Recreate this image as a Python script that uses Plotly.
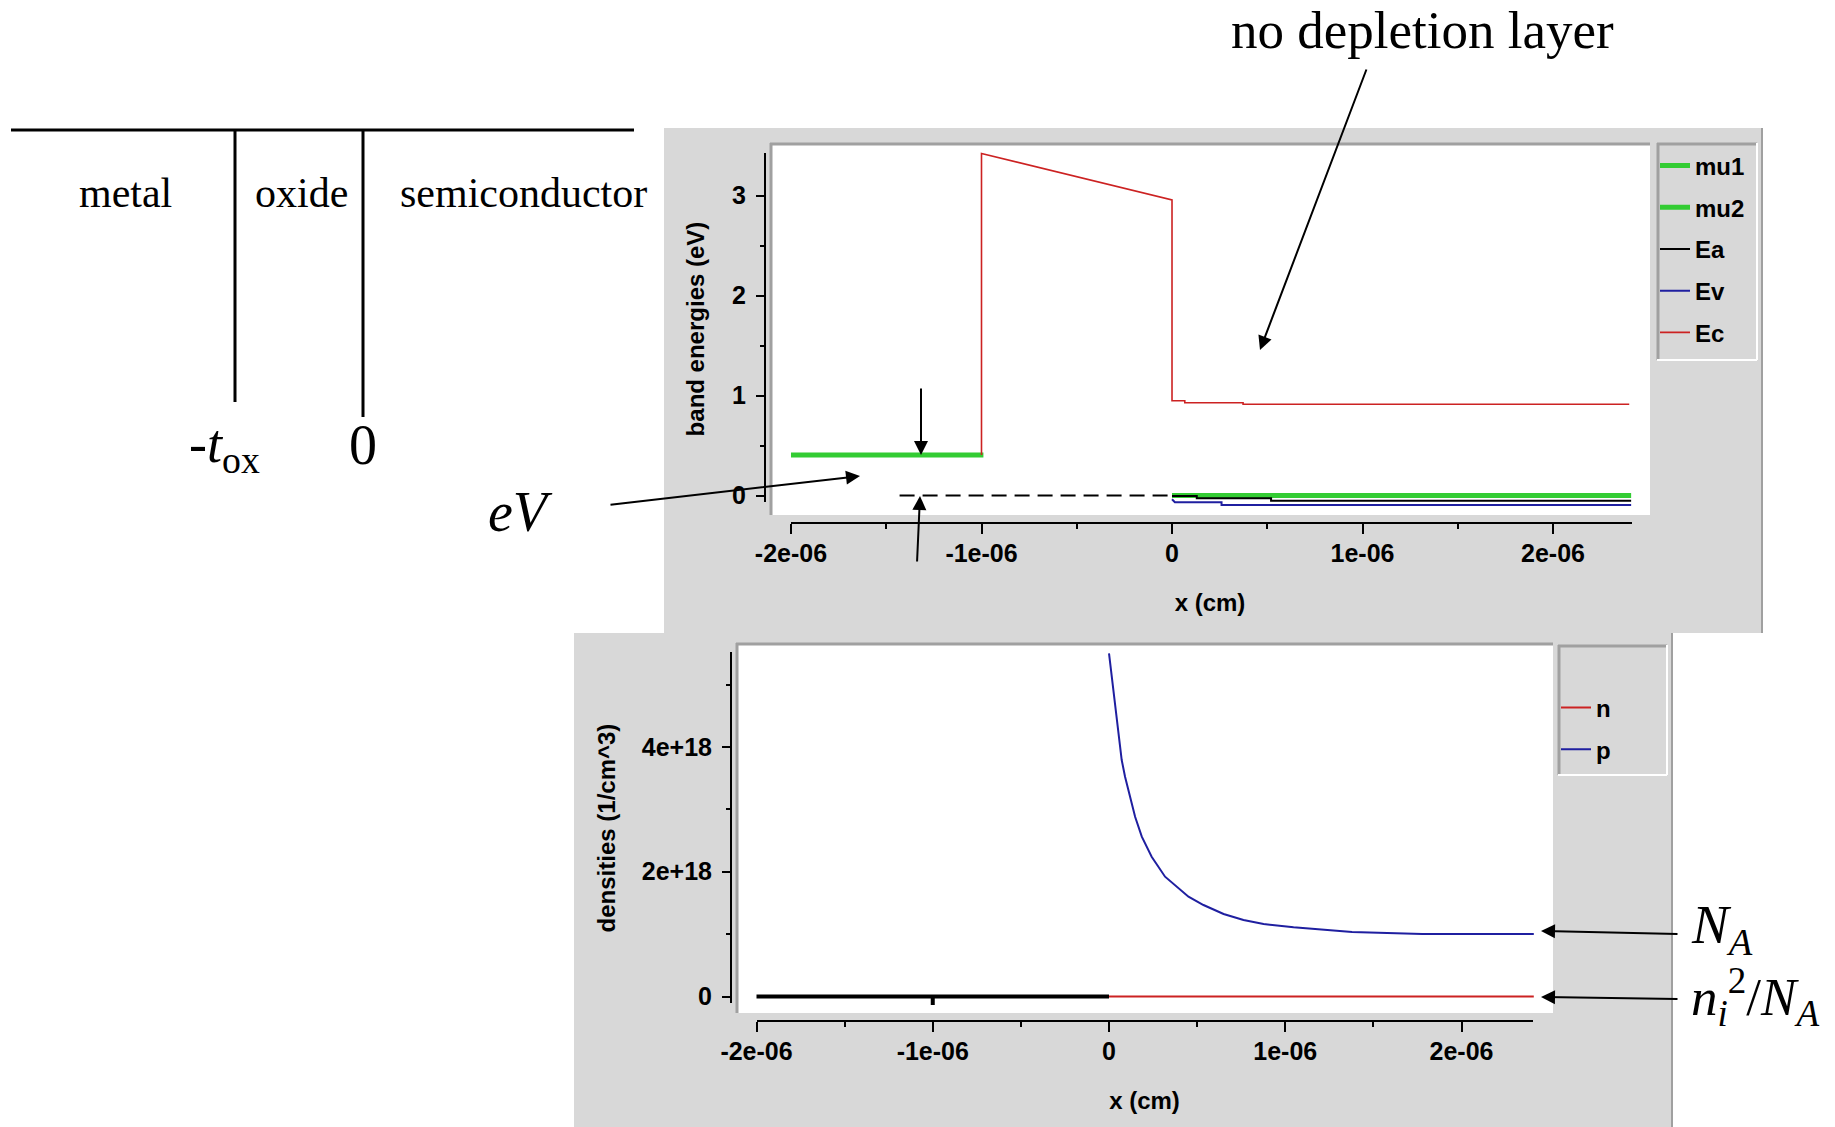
import plotly.graph_objects as go

W, H = 1835, 1127

# ---------------- data : band energies (top panel) ----------------
mu1_x = [-2.0e-6, -0.99e-6]
mu1_y = [0.405, 0.405]
mu2_x = [0.0, 2.41e-6]
mu2_y = [0.0, 0.0]
ea_x = [0.0, 0.13e-6, 0.13e-6, 0.52e-6, 0.52e-6, 2.41e-6]
ea_y = [-0.005, -0.005, -0.028, -0.028, -0.052, -0.052]
ev_x = [0.0, 0.015e-6, 0.26e-6, 0.26e-6, 2.41e-6]
ev_y = [-0.038, -0.068, -0.068, -0.095, -0.095]
ec_x = [-1.0e-6, -1.0e-6, 0.0, 0.0, 0.067e-6, 0.067e-6, 0.373e-6, 0.373e-6, 2.40e-6]
ec_y = [0.405, 3.42, 2.955, 0.948, 0.948, 0.928, 0.928, 0.912, 0.912]
ref_x = [-1.43e-6, 0.0]
ref_y = [0.0, 0.0]

top_xticks = [-2e-6, -1e-6, 0.0, 1e-6, 2e-6]
top_xticktext = ["-2e-06", "-1e-06", "0", "1e-06", "2e-06"]
top_xminor = [-1.5e-6, -0.5e-6, 0.5e-6, 1.5e-6]
top_yticks = [0, 1, 2, 3]
top_yticktext = ["0", "1", "2", "3"]
top_yminor = [0.5, 1.5, 2.5]

# ---------------- data : densities (bottom panel) ----------------
p_x = [0.0, 0.015e-6, 0.034e-6, 0.053e-6, 0.072e-6, 0.091e-6, 0.119e-6, 0.148e-6,
       0.186e-6, 0.242e-6, 0.318e-6, 0.385e-6, 0.451e-6, 0.536e-6, 0.650e-6,
       0.763e-6, 0.877e-6, 1.047e-6, 1.218e-6, 1.379e-6, 1.777e-6, 2.41e-6]
p_y = [5.50e18, 5.125e18, 4.644e18, 4.163e18, 3.79e18, 3.522e18, 3.202e18, 2.881e18,
       2.561e18, 2.24e18, 1.92e18, 1.76e18, 1.60e18, 1.466e18, 1.322e18,
       1.226e18, 1.162e18, 1.109e18, 1.066e18, 1.034e18, 1.002e18, 1.002e18]
n_x = [0.0, 2.41e-6]
n_y = [0.0, 0.0]
metal_x = [-2.0e-6, -1.0e-6, -1.0e-6, -1.0e-6, 0.0]
metal_y = [0.0, 0.0, -0.136e18, 0.0, 0.0]

bot_xticks = [-2e-6, -1e-6, 0.0, 1e-6, 2e-6]
bot_xticktext = ["-2e-06", "-1e-06", "0", "1e-06", "2e-06"]
bot_xminor = [-1.5e-6, -0.5e-6, 0.5e-6, 1.5e-6]
bot_yticks = [0, 2e18, 4e18]
bot_yticktext = ["0", "2e+18", "4e+18"]
bot_yminor = [1e18, 3e18, 5e18]

# ---------------- helpers (pixel -> paper) ----------------
def fx(px):
    return px / W


def fy(py):
    return 1 - py / H


GRAY = "#d8d8d8"
DARK = "#a0a0a0"
GREEN = "#33cc33"
RED = "#cc2222"
BLUE = "#1f1fa0"
SANS = "Liberation Sans"
SERIF = "Liberation Serif"

shapes = []


def rect(x0, y0, x1, y1, color):
    shapes.append(dict(type="rect", xref="paper", yref="paper",
                       x0=fx(x0), x1=fx(x1), y0=fy(y1), y1=fy(y0),
                       fillcolor=color, line=dict(width=0), layer="below"))


def seg(x0, y0, x1, y1, color="black", width=2, dash=None):
    ln = dict(color=color, width=width)
    if dash:
        ln["dash"] = dash
    shapes.append(dict(type="line", xref="paper", yref="paper",
                       x0=fx(x0), x1=fx(x1), y0=fy(y0), y1=fy(y1),
                       line=ln, layer="below"))


# gray panels
rect(664, 128, 1762, 633, GRAY)
rect(574, 633, 1672, 1127, GRAY)
seg(1762, 128, 1762, 633, DARK, 2)
seg(1672, 633, 1672, 1127, DARK, 2)
# white plot areas with inset borders
rect(770, 143, 1650, 515, "white")
seg(770, 144, 1650, 144, DARK, 3)
seg(771, 143, 771, 515, DARK, 3)
rect(736, 643, 1553, 1013, "white")
seg(736, 644, 1553, 644, DARK, 3)
seg(737, 643, 737, 1013, DARK, 3)
# legend boxes (inset)
seg(1657, 144, 1757, 144, DARK, 3)
seg(1658, 143, 1658, 360, DARK, 3)
seg(1657, 360, 1757, 360, "white", 2)
seg(1757, 143, 1757, 360, "white", 2)
seg(1558, 646, 1667, 646, DARK, 3)
seg(1559, 645, 1559, 775, DARK, 3)
seg(1558, 775, 1667, 775, "white", 2)
seg(1667, 645, 1667, 775, "white", 2)
# axis lines
seg(791, 523, 1632, 523, "black", 2)
seg(765, 153, 765, 502, "black", 2)
seg(757, 1021, 1533, 1021, "black", 2)
seg(731, 652, 731, 1003, "black", 2)
# schematic metal / oxide / semiconductor
seg(11, 130, 634, 130, "black", 3)
seg(235, 130, 235, 402, "black", 3)
seg(363, 130, 363, 417, "black", 3)

annotations = []


def text(s, x, y, size, family=SERIF, xanchor="center", yanchor="middle"):
    annotations.append(dict(text=s, x=fx(x), y=fy(y), xref="paper", yref="paper",
                            xanchor=xanchor, yanchor=yanchor, showarrow=False,
                            font=dict(family=family, size=size, color="black")))


def arrow(hx, hy, tx, ty):
    annotations.append(dict(text="", x=fx(hx), y=fy(hy), xref="paper", yref="paper",
                            ax=tx - hx, ay=ty - hy, axref="pixel", ayref="pixel",
                            showarrow=True, arrowhead=2, arrowsize=1.4, arrowwidth=2,
                            arrowcolor="black", standoff=0, startstandoff=0))


text("no depletion layer", 1422, 30, 53)
text("metal", 125, 193, 42)
text("oxide", 301, 193, 42)
text("semiconductor", 523, 193, 42)
text("-<i>t</i><sub>ox</sub>", 224, 448, 54)
text("0", 363, 445, 56)
text("<i>eV</i>", 520, 512, 56)
text("<i>N</i><sub><i>A</i></sub>", 1689, 928, 55, xanchor="left")
text("<i>n</i><sub><i>i</i></sub><sup>2</sup>/<i>N</i><sub><i>A</i></sub>", 1689, 997, 53, xanchor="left")

arrow(1260, 350, 1367, 68)
arrow(860, 476, 609, 505)
arrow(921, 455, 921, 387)
arrow(920, 496, 917, 563)
arrow(1541, 931, 1679, 934)
arrow(1541, 997, 1679, 999)

fig = go.Figure()

# top panel traces
fig.add_trace(go.Scatter(x=mu1_x, y=mu1_y, mode="lines", name="mu1", legendgroup="a",
                         line=dict(color=GREEN, width=5), xaxis="x", yaxis="y"))
fig.add_trace(go.Scatter(x=mu2_x, y=mu2_y, mode="lines", name="mu2", legendgroup="b",
                         line=dict(color=GREEN, width=5), xaxis="x", yaxis="y"))
fig.add_trace(go.Scatter(x=ea_x, y=ea_y, mode="lines", name="Ea", legendgroup="c",
                         line=dict(color="black", width=2), xaxis="x", yaxis="y"))
fig.add_trace(go.Scatter(x=ev_x, y=ev_y, mode="lines", name="Ev", legendgroup="d",
                         line=dict(color=BLUE, width=2), xaxis="x", yaxis="y"))
fig.add_trace(go.Scatter(x=ec_x, y=ec_y, mode="lines", name="Ec", legendgroup="e",
                         line=dict(color=RED, width=1.6), xaxis="x", yaxis="y"))
fig.add_trace(go.Scatter(x=ref_x, y=ref_y, mode="lines", showlegend=False,
                         line=dict(color="black", width=2, dash="15px,8px"),
                         xaxis="x", yaxis="y", hoverinfo="skip"))

# bottom panel traces
fig.add_trace(go.Scatter(x=metal_x, y=metal_y, mode="lines", showlegend=False,
                         line=dict(color="black", width=4), xaxis="x2", yaxis="y2"))
fig.add_trace(go.Scatter(x=n_x, y=n_y, mode="lines", name="n", legend="legend2",
                         legendgroup="n", line=dict(color=RED, width=2),
                         xaxis="x2", yaxis="y2"))
fig.add_trace(go.Scatter(x=p_x, y=p_y, mode="lines", name="p", legend="legend2",
                         legendgroup="p", line=dict(color=BLUE, width=2),
                         xaxis="x2", yaxis="y2"))

tickfont = dict(family=SANS, size=25, color="black", weight="bold")
titlefont = dict(family=SANS, size=24, color="black", weight="bold")
legfont = dict(family=SANS, size=24, color="black", weight="bold")


def xax(domain, rng, pos, vals, txt, minor):
    return dict(domain=domain, range=rng, anchor="free", position=pos,
                automargin=False,
                showline=False, showgrid=False, zeroline=False,
                ticks="outside", ticklen=10, tickwidth=2, tickcolor="black",
                tickmode="array", tickvals=vals, ticktext=txt, tickfont=tickfont,
                ticklabelstandoff=-2,
                minor=dict(ticks="outside", ticklen=5, tickwidth=2, tickcolor="black",
                           tickmode="array", tickvals=minor, showgrid=False),
                title=dict(text="x (cm)", font=titlefont, standoff=28),
                fixedrange=True)


def yax(domain, rng, pos, vals, txt, minor, title, standoff):
    return dict(domain=domain, range=rng, anchor="free", position=pos,
                automargin=False,
                showline=False, showgrid=False, zeroline=False,
                ticks="outside", ticklen=9, tickwidth=2, tickcolor="black",
                tickmode="array", tickvals=vals, ticktext=txt, tickfont=tickfont,
                ticklabelstandoff=5,
                minor=dict(ticks="outside", ticklen=5, tickwidth=2, tickcolor="black",
                           tickmode="array", tickvals=minor, showgrid=False),
                title=dict(text=title, font=titlefont, standoff=standoff),
                fixedrange=True)


fig.update_layout(
    width=W, height=H, margin=dict(l=0, r=0, t=0, b=0, pad=0, autoexpand=False),
    paper_bgcolor="white", plot_bgcolor="rgba(0,0,0,0)",
    xaxis=xax([fx(770), fx(1650)], [-2.1102e-6, 2.509e-6], fy(523),
              top_xticks, top_xticktext, top_xminor),
    yaxis=yax([fy(515), fy(143)], [-0.195, 3.525], fx(765),
              top_yticks, top_yticktext, top_yminor, "band energies (eV)", 19),
    xaxis2=xax([fx(736), fx(1553)], [-2.1163e-6, 2.519e-6], fy(1021),
               bot_xticks, bot_xticktext, bot_xminor),
    yaxis2=yax([fy(1013), fy(643)], [-0.2644e18, 5.665e18], fx(731),
               bot_yticks, bot_yticktext, bot_yminor, "densities (1/cm^3)", 18),
    legend=dict(x=fx(1655), y=fy(143.5), xanchor="left", yanchor="top",
                bgcolor="rgba(0,0,0,0)", borderwidth=0, font=legfont,
                traceorder="grouped", tracegroupgap=7.5),
    legend2=dict(x=fx(1556), y=fy(685.5), xanchor="left", yanchor="top",
                 bgcolor="rgba(0,0,0,0)", borderwidth=0, font=legfont,
                 traceorder="grouped", tracegroupgap=7.5),
    shapes=shapes,
    annotations=annotations,
)

fig.write_html("out.html")
